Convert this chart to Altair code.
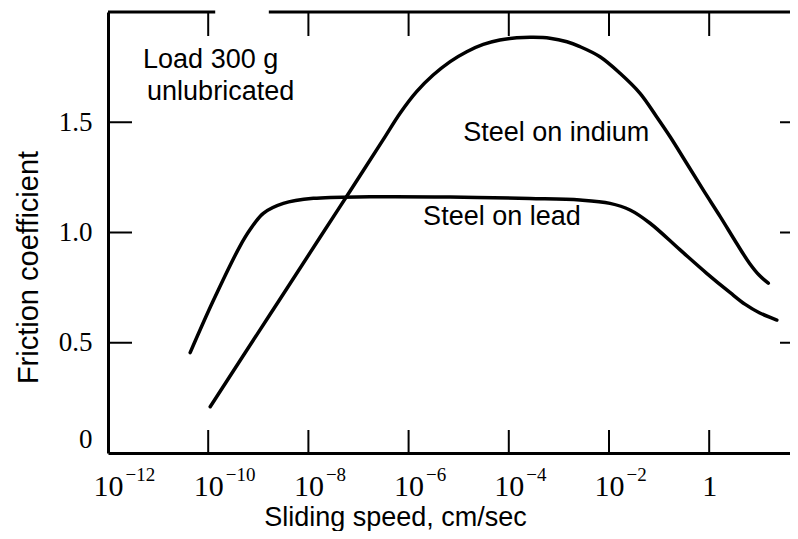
import altair as alt
import pandas as pd

# ---- data (x = log10 of sliding speed, cm/sec) ----
lead_log_speed = [-10.36, -9.90, -9.37, -9.17, -8.90, -8.50, -7.90, -6.77, -5.17, -3.58,
                  -2.58, -1.98, -1.58, -1.18, -0.58, -0.05, 0.42, 0.72, 1.01, 1.35]
lead_friction = [0.455, 0.690, 0.936, 1.011, 1.087, 1.132, 1.155, 1.162, 1.161, 1.154,
                 1.147, 1.132, 1.102, 1.042, 0.921, 0.815, 0.727, 0.674, 0.635, 0.603]

indium_log_speed = [-9.96, -8.77, -7.77, -7.17, -6.51, -6.17, -5.84, -5.51, -5.17, -4.84,
                    -4.51, -4.18, -3.84, -3.51, -3.18, -2.84, -2.58, -2.18, -1.78, -1.38,
                    -1.05, -0.78, -0.45, -0.12, 0.22, 0.55, 0.80, 1.00, 1.18]
indium_friction = [0.21, 0.627, 0.977, 1.187, 1.420, 1.541, 1.639, 1.714, 1.775, 1.820,
                   1.853, 1.873, 1.883, 1.885, 1.881, 1.865, 1.843, 1.797, 1.722, 1.631,
                   1.525, 1.434, 1.314, 1.193, 1.072, 0.950, 0.862, 0.806, 0.770]

x_tick_values = [-12, -10, -8, -6, -4, -2, 0]
x_tick_bases = ["10", "10", "10", "10", "10", "10", "1"]
x_tick_exponents = ["\u221212", "\u221210", "\u22128", "\u22126", "\u22124", "\u22122", ""]
y_tick_values = [0, 0.5, 1.0, 1.5]
inner_x_ticks = [-10, -8, -6, -4, -2, 0]
inner_y_ticks = [0.5, 1.0, 1.5]

ann_text = ["Load 300 g", "unlubricated", "Steel on indium", "Steel on lead"]
ann_x = [-11.30, -11.22, -4.91, -5.71]
ann_y = [1.746, 1.601, 1.415, 1.034]

top_border_from = [-12.0, -8.79]
top_border_to = [-9.86, 1.613]

# ---- layout ----
W, H = 682, 441
X_DOMAIN = [-12, 1.613]
Y_DOMAIN = [0, 2.0]
SANS = "Liberation Sans"
SERIF = "Liberation Serif"

xs = alt.Scale(domain=X_DOMAIN, nice=False, zero=False)
ys = alt.Scale(domain=Y_DOMAIN, nice=False)


def lookup(texts):
    return "[" + ",".join("'%s'" % t for t in texts) + "][indexof([" + \
        ",".join(str(v) for v in x_tick_values) + "], datum.value)]"


x_axis_base = alt.Axis(
    orient="bottom", values=x_tick_values, labelExpr=lookup(x_tick_bases),
    title="Sliding speed, cm/sec",
    grid=False, ticks=False, tickSize=0, domain=True, domainColor="black", domainWidth=3,
    labelFont=SERIF, labelFontSize=30, labelColor="black", labelFlush=False,
    labelBaseline="alphabetic", labelPadding=42, labelAlign="center",
    titleFont=SANS, titleFontSize=27, titleFontWeight="normal", titleColor="black",
    titleBaseline="alphabetic", titleAnchor="start", titleAlign="center",
    titleX=287, titleY=72,
)
x_axis_exp = alt.Axis(
    orient="bottom", values=x_tick_values, labelExpr=lookup(x_tick_exponents), title=None,
    grid=False, ticks=False, tickSize=0, domain=False,
    labelFont=SERIF, labelFontSize=19, labelColor="black", labelFlush=False,
    labelBaseline="alphabetic", labelPadding=27, labelAlign="left", labelOffset=17,
)
y_axis = alt.Axis(
    values=y_tick_values, labelExpr="datum.value == 0 ? '0' : format(datum.value, '.1f')",
    title="Friction coefficient",
    grid=False, ticks=False, tickSize=0, domain=True, domainColor="black", domainWidth=3,
    labelFont=SERIF, labelFontSize=27, labelColor="black", labelPadding=16, labelFlush=True,
    titleFont=SANS, titleFontSize=29, titleFontWeight="normal", titleColor="black",
    titleBaseline="alphabetic", titleAngle=270, titleAlign="center", titleAnchor="start",
    titleX=-71, titleY=255,
)

lead_df = pd.DataFrame({"s": lead_log_speed, "f": lead_friction})
indium_df = pd.DataFrame({"s": indium_log_speed, "f": indium_friction})

line_style = dict(color="black", strokeWidth=3.5, interpolate="catmull-rom", strokeCap="round")

lead = alt.Chart(lead_df).mark_line(**line_style).encode(
    x=alt.X("s:Q", scale=xs, axis=x_axis_base),
    y=alt.Y("f:Q", scale=ys, axis=y_axis),
)
indium = alt.Chart(indium_df).mark_line(**line_style).encode(
    x=alt.X("s:Q", scale=xs, axis=x_axis_exp),
    y=alt.Y("f:Q", scale=ys),
)

ann = alt.Chart(pd.DataFrame({"t": ann_text, "x": ann_x, "y": ann_y})).mark_text(
    font=SANS, fontSize=27, align="left", baseline="alphabetic", color="black"
).encode(x=alt.X("x:Q", scale=xs, axis=None), y=alt.Y("y:Q", scale=ys), text="t:N")

xt = pd.DataFrame({"v": inner_x_ticks})
yt = pd.DataFrame({"v": inner_y_ticks})
tick_style = dict(color="black", strokeWidth=2)
bottom_ticks = alt.Chart(xt).mark_rule(**tick_style).encode(
    x=alt.X("v:Q", scale=xs, axis=None), y=alt.value(H), y2=alt.value(H - 23))
top_ticks = alt.Chart(xt).mark_rule(**tick_style).encode(
    x=alt.X("v:Q", scale=xs, axis=None), y=alt.value(0), y2=alt.value(24))
left_ticks = alt.Chart(yt).mark_rule(**tick_style).encode(
    y=alt.Y("v:Q", scale=ys), x=alt.value(0), x2=alt.value(24))
right_ticks = alt.Chart(yt).mark_rule(**tick_style).encode(
    y=alt.Y("v:Q", scale=ys), x=alt.value(W - 10), x2=alt.value(W))
top_border = alt.Chart(pd.DataFrame({"a": top_border_from, "b": top_border_to})).mark_rule(
    color="black", strokeWidth=3).encode(
    x=alt.X("a:Q", scale=xs, axis=None), x2="b:Q", y=alt.value(0))

chart = alt.layer(
    top_border, bottom_ticks, top_ticks, left_ticks, right_ticks, indium, lead, ann
).resolve_axis(x="independent").properties(
    width=W, height=H,
    autosize=alt.AutoSizeParams(type="none"),
    padding={"left": 100, "top": 4, "right": 0, "bottom": 78},
    background="white",
).configure_view(stroke=None)

chart.save("out.html", embed_options={"renderer": "svg", "actions": False})
